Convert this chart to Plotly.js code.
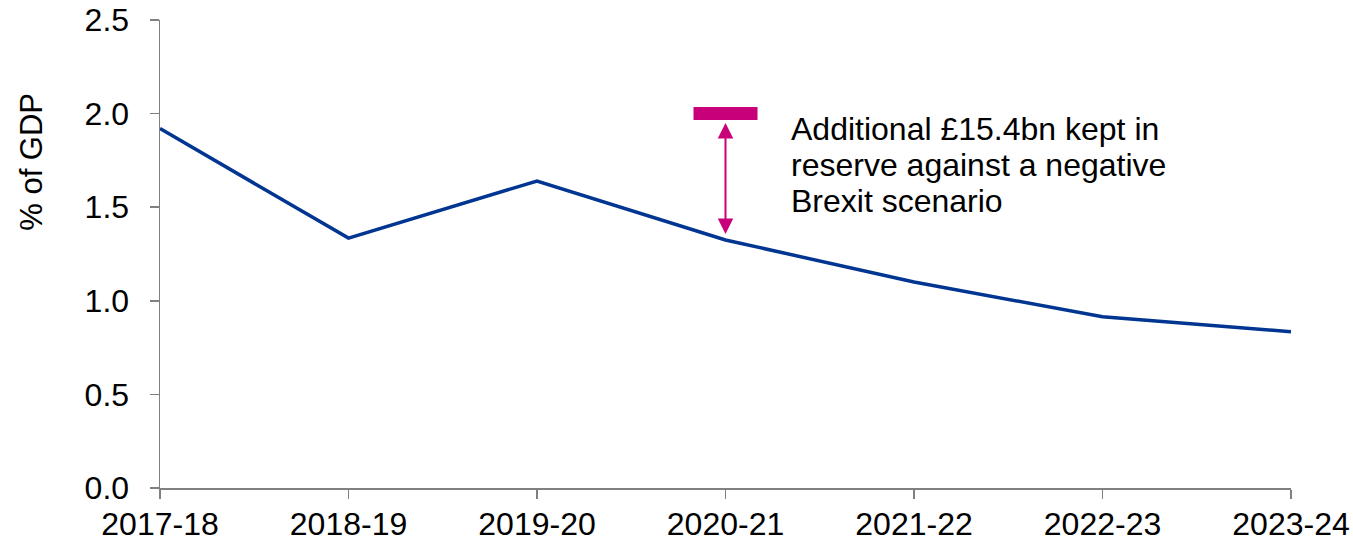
<!DOCTYPE html>
<html>
<head>
<meta charset="utf-8">
<script src="https://cdn.plot.ly/plotly-3.0.1.min.js"></script>
<style>html,body{margin:0;padding:0;background:#fff;}#chart{width:1353px;height:542px;}</style>
</head>
<body>
<div id="chart"></div>
<script>
// Data
const years = ['2017-18', '2018-19', '2019-20', '2020-21', '2021-22', '2022-23', '2023-24'];
const headroom = [1.92, 1.335, 1.64, 1.325, 1.10, 0.915, 0.835];
const reserveYear = '2020-21';
const reserveLevel = 2.0;
const annotationLines = ['Additional £15.4bn kept in', 'reserve against a negative', 'Brexit scenario'];
const yTicks = [0, 0.5, 1.0, 1.5, 2.0, 2.5];

const FONT = 'Liberation Sans, Arial, sans-serif';
const MAGENTA = '#C8007A';
const BLUE = '#003591';
const AXIS = '#808080';

const reserveIdx = years.indexOf(reserveYear);
const reserveVal = headroom[reserveIdx];

const trace = {
  x: years,
  y: headroom,
  type: 'scatter',
  mode: 'lines',
  line: {color: BLUE, width: 3.5},
  hoverinfo: 'skip'
};

const annotations = [];
// Double-headed arrow between reserve level and 2020-21 value
annotations.push({
  xref: 'x', yref: 'y', axref: 'x', ayref: 'y',
  x: reserveIdx, y: reserveVal,
  ax: reserveIdx, ay: reserveLevel,
  text: '',
  showarrow: true,
  arrowside: 'end+start',
  arrowhead: 2, startarrowhead: 2,
  arrowsize: 1.55, startarrowsize: 1.55,
  arrowwidth: 2,
  arrowcolor: MAGENTA,
  standoff: 6, startstandoff: 8
});
// Text lines
const lineY = [0.767, 0.690, 0.613];
annotationLines.forEach((t, i) => {
  annotations.push({
    xref: 'paper', yref: 'paper',
    x: 0.5565, y: lineY[i],
    xanchor: 'left', yanchor: 'middle',
    text: t, showarrow: false,
    font: {family: FONT, size: 32, color: '#000'}
  });
});
// Y axis title (placed higher than centre, as in reference)
annotations.push({
  xref: 'paper', yref: 'paper',
  x: -0.1132, y: 0.697,
  xanchor: 'center', yanchor: 'middle',
  text: '% of GDP', textangle: -90, showarrow: false,
  font: {family: FONT, size: 31, color: '#000'}
});

const layout = {
  width: 1353, height: 542,
  margin: {l: 160, r: 62, t: 20, b: 54, pad: 0},
  paper_bgcolor: '#fff', plot_bgcolor: '#fff',
  showlegend: false,
  font: {family: FONT, size: 32, color: '#000'},
  xaxis: {
    type: 'category',
    range: [0, years.length - 1],
    showgrid: false, zeroline: false,
    showline: true, linecolor: AXIS, linewidth: 1.5,
    ticks: 'outside', ticklen: 9, tickcolor: AXIS, tickwidth: 1.5,
    ticklabelstandoff: -2,
    tickfont: {family: FONT, size: 32, color: '#000'},
    fixedrange: true
  },
  yaxis: {
    range: [0, 2.5],
    tickvals: yTicks,
    tickformat: '.1f',
    showgrid: false, zeroline: false,
    showline: true, linecolor: AXIS, linewidth: 1.5,
    ticks: 'outside', ticklen: 9, tickcolor: AXIS, tickwidth: 1.5,
    ticklabelstandoff: 14,
    tickfont: {family: FONT, size: 32, color: '#000'},
    fixedrange: true
  },
  shapes: [{
    type: 'rect',
    xref: 'x', yref: 'y',
    xsizemode: 'pixel', ysizemode: 'pixel',
    xanchor: reserveIdx, yanchor: reserveLevel,
    x0: -32, x1: 32, y0: -6.5, y1: 6.5,
    fillcolor: MAGENTA, line: {width: 0}
  }],
  annotations: annotations
};

Plotly.newPlot('chart', [trace], layout, {displayModeBar: false, staticPlot: true});
</script>
</body>
</html>
